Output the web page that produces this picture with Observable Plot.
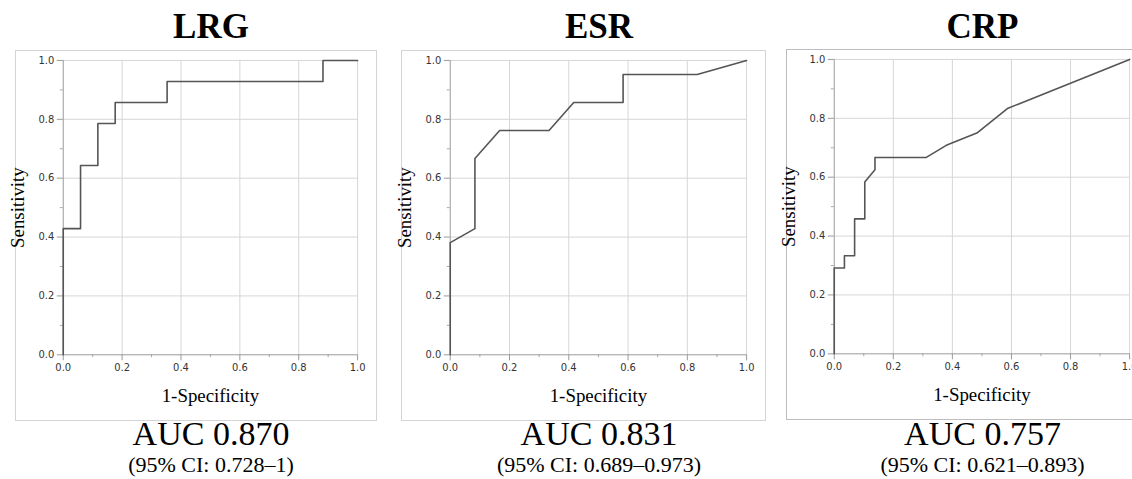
<!DOCTYPE html>
<html>
<head>
<meta charset="utf-8">
<script src="https://cdn.jsdelivr.net/npm/d3@7"></script>
<script src="https://cdn.jsdelivr.net/npm/@observablehq/plot@0.6"></script>
<style>
  html, body { margin: 0; padding: 0; background: #fff; }
  body { width: 1132px; height: 479px; position: relative; overflow: hidden; }
  .panel { position: absolute; box-sizing: border-box; border: 1px solid #d4d4d4; background: #fff; }
  .txt { position: absolute; white-space: nowrap; font-family: "Liberation Serif", "Times New Roman", serif; line-height: 1; transform: translateX(-50%); color: #000; }
  .title { font-weight: bold; font-size: 35px; }
  .auc { font-size: 34px; }
  .ci { font-size: 22px; }
</style>
</head>
<body>
<script>
// ---- Data ----
const panelNames = ["LRG", "ESR", "CRP"];
const aucLabels = ["AUC 0.870", "AUC 0.831", "AUC 0.757"];
const ciLabels = ["(95% CI: 0.728\u20131)", "(95% CI: 0.689\u20130.973)", "(95% CI: 0.621\u20130.893)"];

const lrgFpr = [0, 0, 0.0588, 0.0588, 0.1176, 0.1176, 0.1765, 0.1765, 0.3529, 0.3529, 0.8824, 0.8824, 1];
const lrgTpr = [0, 0.4286, 0.4286, 0.6429, 0.6429, 0.7857, 0.7857, 0.8571, 0.8571, 0.9286, 0.9286, 1, 1];

const esrFpr = [0, 0, 0.0833, 0.0833, 0.1667, 0.3333, 0.4167, 0.5833, 0.5833, 0.8333, 1];
const esrTpr = [0, 0.381, 0.4286, 0.6667, 0.7619, 0.7619, 0.8571, 0.8571, 0.9524, 0.9524, 1];

const crpFpr = [0, 0, 0.0345, 0.0345, 0.069, 0.069, 0.1034, 0.1034, 0.1379, 0.1379, 0.3103, 0.3793, 0.4828, 0.5862, 1];
const crpTpr = [0, 0.2917, 0.2917, 0.3333, 0.3333, 0.4583, 0.4583, 0.5833, 0.625, 0.6667, 0.6667, 0.7083, 0.75, 0.8333, 1];

const majorTicks = [0, 0.2, 0.4, 0.6, 0.8, 1.0];
const minorTicks = [0.1, 0.3, 0.5, 0.7, 0.9];
const gridTicks = [0.2, 0.4, 0.6, 0.8, 1.0];
const xLabel = "1-Specificity";
const yLabel = "Sensitivity";

// ---- Layout ----
const panels = [
  {fpr: lrgFpr, tpr: lrgTpr, left: 15, top: 50, w: 362, h: 371, ml: 48, mr: 18, mt: 10, mb: 65},
  {fpr: esrFpr, tpr: esrTpr, left: 401, top: 50, w: 365, h: 371, ml: 49, mr: 18, mt: 10, mb: 65},
  {fpr: crpFpr, tpr: crpTpr, left: 786, top: 49, w: 366, h: 371, ml: 48, mr: 21, mt: 10, mb: 65, border: "#bdbdbd"}
];

panels.forEach((p, i) => {
  const data = p.fpr.map((x, k) => ({x, y: p.tpr[k]}));
  const chart = Plot.plot({
    width: p.w, height: p.h,
    marginLeft: p.ml, marginRight: p.mr, marginTop: p.mt, marginBottom: p.mb,
    x: {domain: [0, 1]},
    y: {domain: [0, 1]},
    style: {fontFamily: "DejaVu Sans, sans-serif", fontSize: "10px", color: "#333", background: "transparent", overflow: "visible"},
    marks: [
      Plot.gridX(gridTicks, {stroke: "#d6d6d6", strokeOpacity: 1}),
      Plot.gridY(gridTicks, {stroke: "#d6d6d6", strokeOpacity: 1}),
      Plot.axisX(majorTicks, {tickSize: 6, tickPadding: 3, tickFormat: d3.format(".1f"), label: null, stroke: "#999", fill: "#333"}),
      Plot.axisX(minorTicks, {tickSize: 3, tickFormat: () => "", label: null, stroke: "#aaa"}),
      Plot.axisY(majorTicks, {tickSize: 6, tickPadding: 3, tickFormat: d3.format(".1f"), label: null, stroke: "#999", fill: "#333"}),
      Plot.axisY(minorTicks, {tickSize: 3, tickFormat: () => "", label: null, stroke: "#aaa"}),
      Plot.ruleX([0], {stroke: "#9a9a9a"}),
      Plot.ruleY([0], {stroke: "#9a9a9a"}),
      Plot.line(data, {x: "x", y: "y", stroke: "#555", strokeWidth: 1.6}),
      Plot.text([xLabel], {frameAnchor: "bottom", dy: 41, text: d => d, fontFamily: "Liberation Serif, serif", fontSize: 19, fill: "#000", lineAnchor: "middle"}),
      Plot.text([yLabel], {frameAnchor: "left", dx: -46, rotate: -90, text: d => d, fontFamily: "Liberation Serif, serif", fontSize: 19, fill: "#000", textAnchor: "middle", lineAnchor: "middle"})
    ]
  });
  const box = document.createElement("div");
  box.className = "panel";
  box.style.left = p.left + "px";
  box.style.top = p.top + "px";
  box.style.width = p.w + "px";
  box.style.height = p.h + "px";
  if (p.border) box.style.borderColor = p.border;
  chart.style.position = "absolute";
  chart.style.left = "-1px";
  chart.style.top = "-1px";
  box.appendChild(chart);
  document.body.appendChild(box);

  const cx = p.left + p.ml + (p.w - p.ml - p.mr) / 2;
  const mk = (cls, text, top) => {
    const d = document.createElement("div");
    d.className = "txt " + cls;
    d.textContent = text;
    d.style.left = cx + "px";
    d.style.top = top + "px";
    document.body.appendChild(d);
  };
  mk("title", panelNames[i], 9);
  mk("auc", aucLabels[i], 417);
  mk("ci", ciLabels[i], 454);
});
</script>
</body>
</html>
